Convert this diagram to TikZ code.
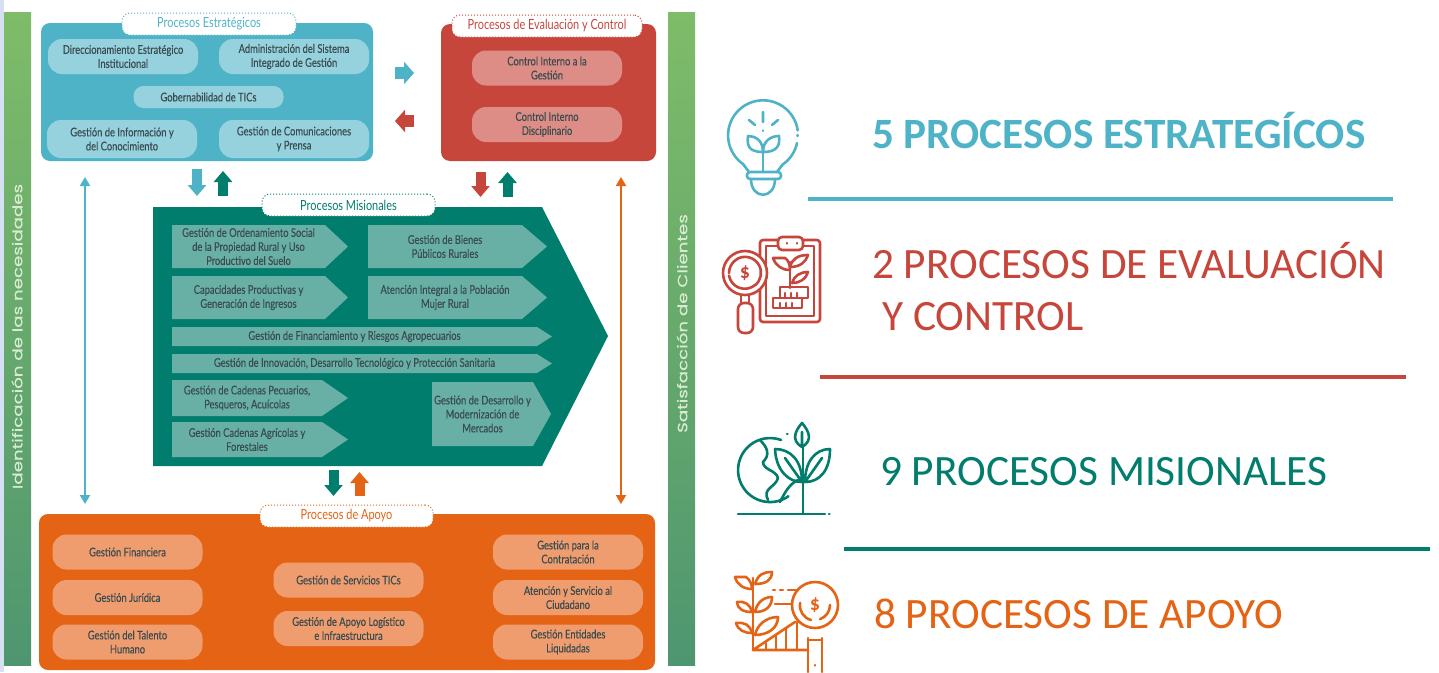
\documentclass[tikz,border=0pt]{standalone}
\usepackage{fontspec}
\setmainfont{Carlito}
\newfontfamily\condfont[FakeStretch=0.78,FakeBold=0.25]{Lato}
\newfontfamily\labelfont[FakeStretch=0.78]{Lato}
\newfontfamily\widefont[FakeStretch=1.35,FakeBold=0.3]{Poppins}
\usetikzlibrary{arrows.meta}
\definecolor{cEst}{HTML}{4FB3C8}
\definecolor{cEstL}{HTML}{96D2DE}
\definecolor{cEva}{HTML}{C7463C}
\definecolor{cEvaL}{HTML}{DD8D86}
\definecolor{cMis}{HTML}{007D6C}
\definecolor{cMisL}{HTML}{68B0A6}
\definecolor{cApo}{HTML}{E56314}
\definecolor{cApoL}{HTML}{EF9C6E}
\definecolor{cTxt}{HTML}{3A4C50}
\definecolor{cStripA}{HTML}{7FBC69}
\definecolor{cStripB}{HTML}{4E9670}
\definecolor{cSide}{HTML}{D5E0F3}
\newcommand{\chev}[7]{%
\fill[cMisL] (#2,#3) -- (#6,#3) -- (#4,{(#3+#5)/2}) -- (#6,#5) -- (#2,#5) -- cycle;
\node[chevtext] (#1) at ({(#2+#6)/2},{(#3+#5)/2}) {#7};}
\begin{document}
\begin{tikzpicture}[x=1pt,y=-1pt,
panel/.style={inner sep=0pt,outer sep=0pt,rounded corners=9pt},
pillbox/.style={inner sep=0pt,outer sep=0pt,rounded corners=14pt,minimum width=150pt,minimum height=35pt,align=center,text=cTxt,font=\condfont\fontsize{12}{14}\selectfont},
chevtext/.style={inner sep=0pt,align=center,text=cTxt,font=\condfont\fontsize{12}{14}\selectfont},
labelbox/.style={fill=white,dotted,line width=1pt,rounded corners=8pt,inner sep=0pt,minimum height=22pt,font=\labelfont\fontsize{14}{14}\selectfont},
strip/.style={inner sep=0pt,outer sep=0pt,minimum width=27pt,minimum height=653pt,top color=cStripA,bottom color=cStripB},
striptext/.style={inner sep=0pt,rotate=90,text=white!70!cStripA,font=\widefont\fontsize{13.5}{14}\selectfont},
bigtext/.style={inner sep=0pt,anchor=base west,font=\fontsize{43.3}{45}\selectfont},
blockarrow/.style={line width=10pt,-{Triangle[width=18pt,length=11pt]}},
sidearrow/.style={line width=12pt,-{Triangle[width=22pt,length=10pt]}},
longarrow/.style={line width=2pt,{Triangle[width=10pt,length=9pt]}-{Triangle[width=10pt,length=9pt]}},
iconline/.style={line width=2.6pt,line cap=round,line join=round}]
\useasboundingbox (0,0) rectangle (1439,672);
\fill[white] (0,0) rectangle (1439,672);
\fill[cSide] (0,0) rectangle (4,672);
% side strips
\node[strip] (stripL) at (17.5,338.5) {};
\node[strip] (stripR) at (681.5,338.5) {};
\node[striptext] (txtL) at (17,336.5) {Identificación de las necesidades};
\node[striptext] (txtR) at (682,323.5) {Satisfacción de Clientes};
% panels
\node[panel,fill=cEst,minimum width=332pt,minimum height=138pt] (estr) at (207,92) {};
\node[panel,fill=cEva,minimum width=215pt,minimum height=137pt] (eval) at (548.5,92.5) {};
\node[panel,fill=cApo,minimum width=616pt,minimum height=156pt] (apoyo) at (347,592) {};
\fill[cMis] (153,207) -- (542,207) -- (608,336) -- (542,466) -- (153,466) -- cycle;
% estrategicos
\begin{scope}[every node/.style={pillbox,fill=cEstL}]
\node (dir) at (123,56.5) {Direccionamiento Estratégico\\Institucional};
\node (adm) at (294,56.5) {Administración del Sistema\\Integrado de Gestión};
\node[minimum height=22pt,rounded corners=10pt] (gob) at (208.5,97) {Gobernabilidad de TICs};
\node[minimum height=38pt] (info) at (122,139) {Gestión de Información y\\del Conocimiento};
\node[minimum height=38pt] (com) at (294,139) {Gestión de Comunicaciones\\y Prensa};
\end{scope}
% evaluacion
\begin{scope}[every node/.style={pillbox,fill=cEvaL}]
\node (ci) at (547,68) {Control Interno a la\\Gestión};
\node (cd) at (547,124.5) {Control Interno\\Disciplinario};
\end{scope}
% apoyo
\begin{scope}[every node/.style={pillbox,fill=cApoL}]
\node (fin) at (127.5,552) {Gestión Financiera};
\node (jur) at (127.5,597.5) {Gestión Jurídica};
\node (tal) at (127.5,642) {Gestión del Talento\\Humano};
\node (tic) at (348.5,580) {Gestión de Servicios TICs};
\node (log) at (348.5,628.5) {Gestión de Apoyo Logístico\\e Infraestructura};
\node (con) at (568,552) {Gestión para la\\Contratación};
\node (ate) at (568,597.5) {Atención y Servicio al\\Ciudadano};
\node (liq) at (568,642) {Gestión Entidades\\Liquidadas};
\end{scope}
% misionales
\chev{ord}{172}{225}{348}{268}{325}{Gestión de Ordenamiento Social\\de la Propiedad Rural y Uso\\Productivo del Suelo}
\chev{bie}{368}{225}{547}{268}{522}{Gestión de Bienes\\Públicos Rurales}
\chev{cap}{172}{276}{348}{319}{325}{Capacidades Productivas y\\Generación de Ingresos}
\chev{muj}{368}{276}{547}{319}{522}{Atención Integral a la Población\\Mujer Rural}
\chev{rie}{172}{327}{552}{346}{537}{Gestión de Financiamiento y Riesgos Agropecuarios}
\chev{inn}{172}{354}{552}{373}{537}{Gestión de Innovación, Desarrollo Tecnológico y Protección Sanitaria}
\chev{pec}{172}{380}{348}{416}{322}{Gestión de Cadenas Pecuarios,\\Pesqueros, Acuícolas}
\chev{agr}{172}{422}{348}{457}{322}{Gestión Cadenas Agrícolas y\\Forestales}
\chev{mer}{432}{382}{551}{446}{533}{Gestión de Desarrollo y\\Modernización de\\Mercados}
% labels
\node[labelbox,draw=cEst,text=cEst,minimum width=174pt] (lEst) at (209,24) {Procesos Estratégicos};
\node[labelbox,draw=cEva,text=cEva,minimum width=190pt] (lEva) at (547,26) {Procesos de Evaluación y Control};
\node[labelbox,draw=cMis,text=cMis,minimum width=173pt] (lMis) at (348.5,205) {Procesos Misionales};
\node[labelbox,draw=cApo,text=cApo,minimum width=173pt] (lApo) at (346.5,516) {Procesos de Apoyo};
% free ends of the arrows
\coordinate (a1) at (395,73);\coordinate (a2) at (414,73);
\coordinate (b1) at (414,121);\coordinate (b2) at (395,121);
\coordinate (c1) at (197,169);\coordinate (c2) at (197,196);
\coordinate (d1) at (223,196);\coordinate (d2) at (223,171);
\coordinate (e1) at (480.5,172);\coordinate (e2) at (480.5,197);
\coordinate (f1) at (507.5,197);\coordinate (f2) at (507.5,172);
\coordinate (g1) at (333.5,470);\coordinate (g2) at (333.5,496);
\coordinate (h1) at (359.5,496);\coordinate (h2) at (359.5,472);
\coordinate (i1) at (85,177);\coordinate (i2) at (85,504);
\coordinate (j1) at (621,177);\coordinate (j2) at (621,504);
\path (a1) edge[sidearrow,cEst] (a2);
\path (b1) edge[sidearrow,cEva] (b2);
\path (c1) edge[blockarrow,cEst] (c2);
\path (d1) edge[blockarrow,cMis] (d2);
\path (e1) edge[blockarrow,cEva] (e2);
\path (f1) edge[blockarrow,cMis] (f2);
\path (g1) edge[blockarrow,cMis] (g2);
\path (h1) edge[blockarrow,cApo] (h2);
\path (i1) edge[longarrow,cEst] (i2);
\path (j1) edge[longarrow,cApo] (j2);
% right hand text
\node[bigtext,text=cEst,font=\bfseries\fontsize{43.2}{45}\selectfont] (t1) at (872,148) {5 PROCESOS ESTRATEGÍCOS};
\node[bigtext,text=cEva] (t2) at (872,278) {2 PROCESOS DE EVALUACIÓN};
\node[bigtext,text=cEva] (t3) at (882,330) {Y CONTROL};
\node[bigtext,text=cMis] (t4) at (880,485) {9 PROCESOS MISIONALES};
\node[bigtext,text=cApo] (t5) at (874,628) {8 PROCESOS DE APOYO};
\fill[cEst] (808,196.5) rectangle (1393,200.5);
\fill[cEva] (820,375) rectangle (1406,379);
\fill[cMis] (844,547) rectangle (1430,551);
% bulb
\begin{scope}[iconline,draw=cEst]
\draw (743,164) arc[start angle=235,end angle=8,radius=35pt];
\draw (797.5,135) -- (797.6,136);
\draw (797,143) arc[start angle=-12,end angle=-55,radius=35pt];
\draw (743,164) -- (749,172) (783,164) -- (777,172);
\draw[rounded corners=3pt] (747,172) rectangle (781,179);
\draw (751,179) .. controls (751,200) and (775,200) .. (775,179);
\draw (763,172) -- (763,146);
\draw (763,152) .. controls (748,152) and (747,145) .. (748,136) .. controls (755,136) and (763,140) .. (763,152);
\draw (763,152) .. controls (778,152) and (780,145) .. (779,136) .. controls (772,136) and (763,140) .. (763,152);
\draw (763,112) -- (763,122) (749,120) -- (755,125) (778,120) -- (772,125);
\draw (763,130.5) -- (763,131);
\end{scope}
% clipboard
\begin{scope}[iconline,draw=cEva]
\draw[rounded corners=3pt] (760,240) rectangle (820,322);
\draw (766,246) rectangle (814,316);
\draw[fill=white,rounded corners=4pt] (778,237) rectangle (803,250);
\draw (787,243) -- (787,243.5) (797,243) -- (797,243.5);
\draw (790,288) -- (790,262);
\draw (790,270) .. controls (782,270) and (776,266) .. (773,258) -- (785,258) .. controls (788,260) and (790,264) .. (790,270);
\draw (790,267) .. controls (792,259) and (798,255) .. (808,255) .. controls (806,262) and (800,267) .. (790,267);
\draw (792,283) .. controls (794,276) and (800,272) .. (808,272) .. controls (806,279) and (800,283) .. (792,283);
\draw (780,298) -- (780,287) -- (808,287) -- (808,298) -- cycle;
\draw (773,298) rectangle (802,308);
\draw (785,298) -- (785,293) (791,298) -- (791,293) (797,298) -- (797,293) (780,308) -- (780,303) (786,308) -- (786,303) (792,308) -- (792,303);
\draw[fill=white] (745,273) circle[radius=22pt];
\draw (741,295) -- (741,303) (749,295) -- (749,303);
\draw[rounded corners=6pt] (738,303) rectangle (753,333);
\draw (729,273) arc[start angle=180,end angle=120,radius=16pt];
\draw (737,259) arc[start angle=120,end angle=-50,radius=16pt];
\draw (755,285) arc[start angle=-50,end angle=-170,radius=16pt];
\end{scope}
\node[inner sep=0pt,text=cEva,font=\bfseries\fontsize{20}{20}\selectfont] (dolA) at (745,273) {\$};
% globe
\begin{scope}[iconline,draw=cMis]
\draw (781,440) arc[start angle=70,end angle=305,radius=32pt];
\draw (787,434) -- (787.5,434);
\draw (738,514) -- (825,514) (829,514) -- (829.5,514);
\draw (803,514) -- (803,447);
\draw (760,440) .. controls (768,448) and (770,455) .. (763,462) .. controls (763,470) and (776,470) .. (778,478) .. controls (775,488) and (762,488) .. (768,500);
\draw (780,502) .. controls (786,490) and (790,484) .. (798,480);
\draw (802,447) .. controls (790,440) and (796,430) .. (802,423) .. controls (808,430) and (814,440) .. (802,447) (802,447) -- (802,432);
\draw (802,482) .. controls (788,482) and (776,470) .. (775,449) .. controls (790,449) and (802,460) .. (802,482) (802,482) -- (785,458);
\draw (805,482) .. controls (805,462) and (815,449) .. (830,449) .. controls (830,470) and (820,482) .. (805,482) (805,482) -- (822,458);
\end{scope}
% plant and coin
\begin{scope}[iconline,draw=cApo]
\draw (753,650) -- (753,578);
\draw (755,584) .. controls (758,574) and (764,572) .. (772,572) .. controls (772,580) and (766,584) .. (755,584);
\draw (752,589) .. controls (744,589) and (737,585) .. (735,577) -- (746,577) .. controls (750,580) and (752,584) .. (752,589);
\draw (755,612) .. controls (757,602) and (764,597) .. (772,597) .. controls (772,606) and (766,612) .. (755,612);
\draw (752,612) .. controls (744,612) and (738,610) .. (737,602) .. controls (745,601) and (750,604) .. (752,612);
\draw (755,635) .. controls (757,625) and (766,617) .. (778,617) .. controls (778,628) and (768,635) .. (755,635);
\draw (752,633) .. controls (744,633) and (738,630) .. (736,623) .. controls (745,622) and (750,625) .. (752,633);
\draw (753,650) -- (808,650) (753,650) -- (795,622);
\draw (766,650) -- (766,642) (776,650) -- (776,635) (786,650) -- (786,629) (797,650) -- (797,622);
\draw (773,590) -- (775,590) (780,590) -- (783,590) (788,590) -- (798,590);
\draw (775,604) -- (792,604);
\draw (815,605) circle[radius=23pt];
\draw (830,605) arc[start angle=0,end angle=-70,radius=15pt];
\draw (811,620) arc[start angle=-105,end angle=-190,radius=15pt];
\draw (808,638) -- (808,672) (822,638) -- (822,672) (808,640) -- (822,640);
\draw (815,665) -- (815,665.5);
\end{scope}
\node[inner sep=0pt,text=cApo,font=\bfseries\fontsize{20}{20}\selectfont] (dolB) at (815,605) {\$};
\end{tikzpicture}
\end{document}
